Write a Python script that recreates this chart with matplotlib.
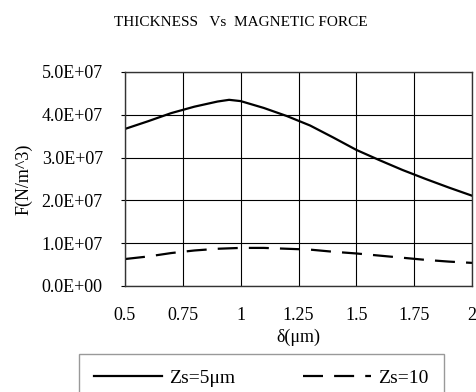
import matplotlib
matplotlib.use('Agg')
import matplotlib.pyplot as plt

plt.rcParams['font.family'] = ['Liberation Serif', 'DejaVu Serif']
plt.rcParams['font.size'] = 13

# === data ===
delta = [0.5, 0.6, 0.7, 0.8, 0.85, 0.9, 0.95, 1.0, 1.05, 1.1, 1.2, 1.3, 1.4, 1.5, 1.6, 1.7, 1.8, 1.9, 2.0]
force_zs5 = [3.67e7, 3.85e7, 4.04e7, 4.19e7, 4.25e7, 4.31e7, 4.35e7, 4.32e7, 4.24e7, 4.16e7, 3.97e7,
             3.75e7, 3.47e7, 3.18e7, 2.94e7, 2.71e7, 2.50e7, 2.30e7, 2.11e7]
force_zs10 = [0.63e7, 0.69e7, 0.77e7, 0.83e7, 0.85e7, 0.87e7, 0.88e7, 0.89e7, 0.89e7, 0.89e7, 0.87e7,
              0.85e7, 0.80e7, 0.76e7, 0.71e7, 0.66e7, 0.61e7, 0.57e7, 0.54e7]

x_ticks = [0.5, 0.75, 1.0, 1.25, 1.5, 1.75, 2.0]
x_labels = ['0.5', '0.75', '1', '1.25', '1.5', '1.75', '2']
y_ticks = [0, 1e7, 2e7, 3e7, 4e7, 5e7]

fig = plt.figure(figsize=(4.77, 3.92), dpi=100)
ax = fig.add_axes([125/477, 1-286/392, 347/477, 214/392])

ax.plot(delta, force_zs5, color='black', lw=1.6, label='Zs=5\u03bcm')
ax.plot(delta, force_zs10, color='black', lw=1.6, linestyle=(0, (9, 5)), label='Zs=10')

ax.set_xlim(0.5, 2.0)
ax.set_ylim(0, 5e7)
ax.set_xticks(x_ticks)
ax.set_xticklabels(x_labels)
ax.set_yticks(y_ticks)
ax.set_yticklabels(['{:.1E}'.format(v) for v in y_ticks])
ax.tick_params(axis='y', length=3, pad=13)
ax.tick_params(axis='x', length=0, pad=15)
ax.grid(True, color='black', lw=0.8)
for s in ax.spines.values():
    s.set_color('#333333')
    s.set_linewidth(1.0)

ax.set_xlabel('\u03b4(\u03bcm)')
ax.set_ylabel('F(N/m^3)')
ax.xaxis.set_label_coords(0.5, -0.20)
ax.yaxis.set_label_coords(-0.266, 0.5)
fig.text(241/477, 1-22/392, 'THICKNESS   Vs  MAGNETIC FORCE', ha='center', va='center', fontsize=11)

fig.legend(loc='upper left', bbox_to_anchor=(79/477, 1-354/392), ncol=2, frameon=True,
           fancybox=False, edgecolor='#808080', fontsize=14, borderpad=0.77, handlelength=3.5,
           handletextpad=0.36, columnspacing=3.5, borderaxespad=0)

plt.savefig('out.png', dpi=100)
plt.close()
